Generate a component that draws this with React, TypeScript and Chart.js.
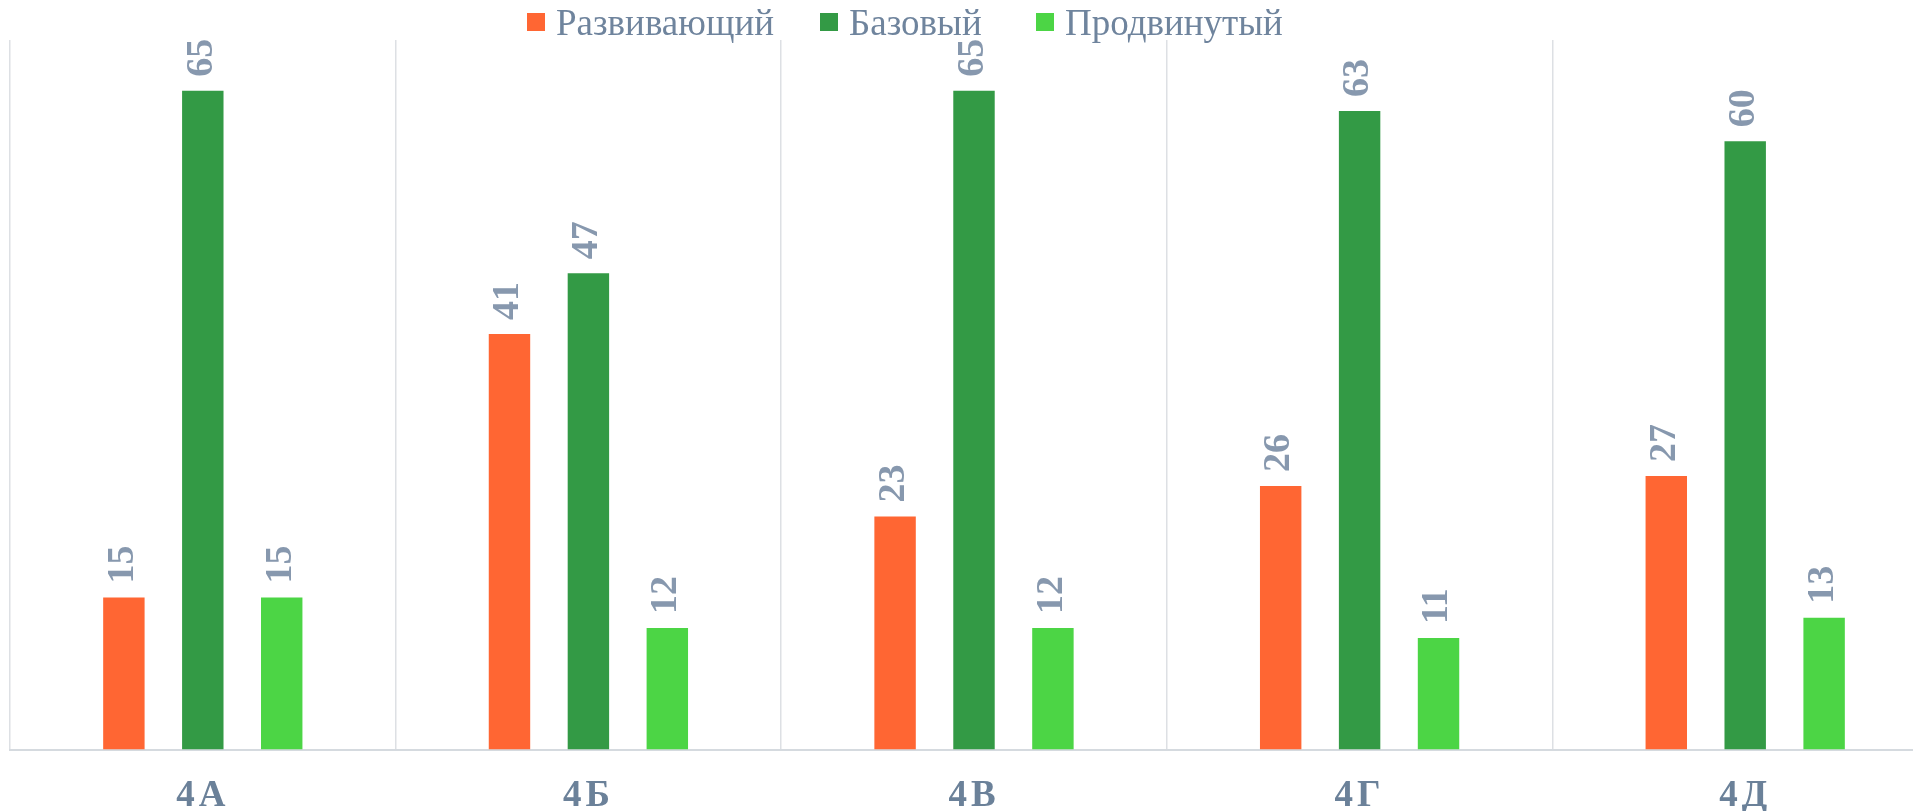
import React, { useEffect, useRef } from "react";
import { Chart, registerables } from "chart.js";
Chart.register(...registerables);

const categories = ["4А", "4Б", "4В", "4Г", "4Д"];
const seriesNames = ["Развивающий", "Базовый", "Продвинутый"];
const developing = [15, 41, 23, 26, 27];
const basic = [65, 47, 65, 63, 60];
const advanced = [15, 12, 12, 11, 13];
const seriesColors = ["#FF6633", "#339A45", "#4CD545"];
const yMax = 70;

const SERIF = '"Liberation Serif", "Times New Roman", serif';

const spacingPlugin = {
  id: "tickSpacing",
  beforeDraw(chart: any) {
    (chart.ctx as any).letterSpacing = "4px";
  },
};

const labelPlugin = {
  id: "barLabels",
  afterDatasetsDraw(chart: any) {
    const ctx = chart.ctx;
    ctx.save();
    (ctx as any).letterSpacing = "0px";
    ctx.font = `bold 38px ${SERIF}`;
    ctx.fillStyle = "#8798AE";
    ctx.textAlign = "left";
    ctx.textBaseline = "middle";
    chart.data.datasets.forEach((ds: any, i: number) => {
      const meta = chart.getDatasetMeta(i);
      meta.data.forEach((bar: any, j: number) => {
        ctx.save();
        ctx.translate(bar.x - 1, bar.y - 14);
        ctx.rotate(-Math.PI / 2);
        ctx.fillText(String(ds.data[j]), 0, 0);
        ctx.restore();
      });
    });
    ctx.restore();
  },
};

const legendX = [519, 812, 1028];

const legendPlugin = {
  id: "customLegend",
  afterDraw(chart: any) {
    const ctx = chart.ctx;
    ctx.save();
    (ctx as any).letterSpacing = "0px";
    ctx.font = `37px ${SERIF}`;
    ctx.textBaseline = "alphabetic";
    ctx.textAlign = "left";
    chart.data.datasets.forEach((ds: any, i: number) => {
      const x = legendX[i];
      ctx.fillStyle = ds.backgroundColor;
      ctx.fillRect(x, 5, 18, 18);
      ctx.fillStyle = "#6F849D";
      ctx.fillText(ds.label, x + 29, 27);
    });
    ctx.restore();
  },
};

export default function App() {
  const ref = useRef<HTMLCanvasElement | null>(null);
  useEffect(() => {
    document.documentElement.style.overflow = "hidden";
    document.body.style.overflow = "hidden";
    if (!ref.current) return;
    const chart = new Chart(ref.current, {
      type: "bar",
      data: {
        labels: categories,
        datasets: [developing, basic, advanced].map((d, i) => ({
          label: seriesNames[i],
          data: d,
          backgroundColor: seriesColors[i],
          borderWidth: 0,
          categoryPercentage: 0.614,
          barPercentage: 0.525,
        })),
      },
      options: {
        responsive: false,
        animation: false,
        layout: { padding: { top: 32, left: 2, right: 4, bottom: 0 } },
        plugins: { legend: { display: false }, tooltip: { enabled: false } },
        scales: {
          x: {
            grid: { display: true, offset: true, color: "#DDE0E4", lineWidth: 1.5, drawTicks: false },
            border: { display: true, color: "#D5DADF", width: 2 },
            ticks: {
              color: "#6B8199",
              padding: 25,
              font: { family: SERIF, size: 37, weight: "bold", lineHeight: 1.2 },
            },
          },
          y: { display: false, min: 0, max: yMax },
        },
      },
      plugins: [spacingPlugin, labelPlugin, legendPlugin],
    });
    return () => chart.destroy();
  }, []);
  return (
    <div style={{ width: 1934, height: 836 }}>
      <canvas ref={ref} width={1934} height={836} style={{ width: 1934, height: 836, display: "block" }} />
    </div>
  );
}
